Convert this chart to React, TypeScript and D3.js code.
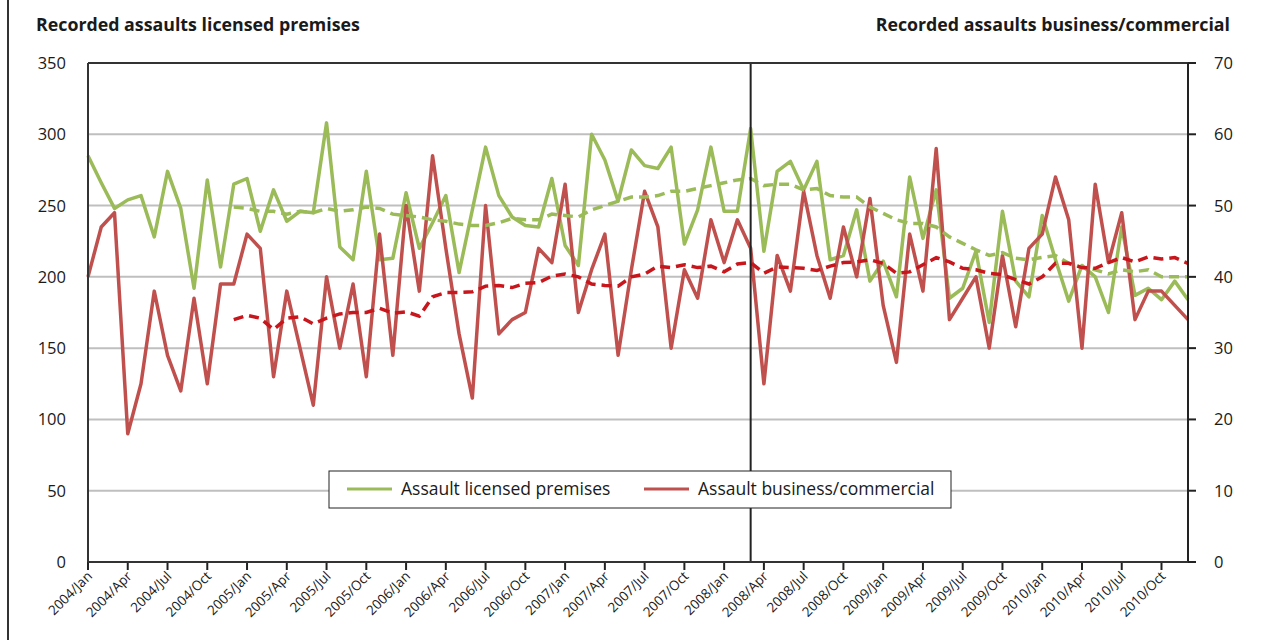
import React from "react";
import * as d3 from "d3";

const MONTHS = ["Jan","Feb","Mar","Apr","May","Jun","Jul","Aug","Sep","Oct","Nov","Dec"];
const YEARS = [2004, 2005, 2006, 2007, 2008, 2009, 2010];
const categories: string[] = YEARS.flatMap((y) => MONTHS.map((m) => `${y}/${m}`));

const licensed: number[] = [
  285, 266, 248, 254, 257, 228, 274, 248, 192, 268, 207, 265,
  269, 232, 261, 239, 246, 245, 308, 221, 212, 274, 212, 213,
  259, 220, 238, 257, 203, 247, 291, 257, 242, 236, 235, 269,
  222, 208, 300, 282, 253, 289, 278, 276, 291, 223, 247, 291,
  246, 246, 304, 218, 274, 281, 261, 281, 212, 215, 247, 197,
  211, 186, 270, 227, 261, 185, 192, 218, 168, 246, 197, 186,
  243, 212, 183, 208, 200, 175, 235, 187, 192, 184, 197, 184,
];

const business: number[] = [
  40, 47, 49, 18, 25, 38, 29, 24, 37, 25, 39, 39,
  46, 44, 26, 38, 30, 22, 40, 30, 39, 26, 46, 29,
  50, 38, 57, 44, 32, 23, 50, 32, 34, 35, 44, 42,
  53, 35, 41, 46, 29, 41, 52, 47, 30, 41, 37, 48,
  42, 48, 44, 25, 43, 38, 52, 43, 37, 47, 40, 51,
  36, 28, 46, 38, 58, 34, 37, 40, 30, 43, 33, 44,
  46, 54, 48, 30, 53, 42, 49, 34, 38, 38, 36, 34,
];

// trend lines start at 2004/Dec (index 11)
const trendStart = 11;
const licensedTrend: number[] = [
  249, 248, 246, 246, 244, 246, 245, 248, 246, 247, 249, 248, 244,
  243, 242, 240, 239, 237, 236, 236, 238, 241, 240, 240, 244,
  243, 242, 247, 250, 253, 256, 256, 257, 260, 260, 262, 264,
  266, 268, 269, 264, 265, 265, 261, 262, 257, 256, 256, 249,
  244.5, 240, 237.5, 237.5, 235, 228, 223.5, 219, 215, 217, 213, 212,
  213.6, 215, 209.5, 206.6, 205, 202, 205, 203.6, 205, 200, 200, 200,
];
const businessTrend: number[] = [
  34.0, 34.6, 34.2, 32.6, 34.2, 34.4, 33.4, 34.2, 34.8, 35.0, 35.0, 35.6, 34.9,
  35.1, 34.5, 37.2, 37.8, 37.8, 37.9, 38.7, 38.8, 38.5, 39.1, 39.2, 40.1,
  40.4, 40.0, 39.0, 38.8, 38.7, 40.0, 40.4, 41.5, 41.3, 41.7, 41.3, 41.5,
  40.7, 41.8, 42.0, 40.5, 41.4, 41.3, 41.2, 40.9, 41.5, 42.0, 42.1, 42.4,
  41.9, 40.5, 40.7, 41.7, 42.7, 42.1, 41.2, 41.0, 40.5, 40.3, 39.6, 39.0,
  40.0, 41.9, 41.9, 41.3, 41.2, 42.0, 42.7, 42.1, 42.8, 42.5, 42.7, 41.9,
];

const leftTicks = [0, 50, 100, 150, 200, 250, 300, 350];
const rightTicks = [0, 10, 20, 30, 40, 50, 60, 70];
const markerCategory = "2008/Mar";

const titleLeft = "Recorded assaults licensed premises";
const titleRight = "Recorded assaults business/commercial";
const legendItems = [
  { label: "Assault licensed premises", color: "#9BBB59" },
  { label: "Assault business/commercial", color: "#C0504D" },
];

const FONT = "'Open Sans', 'Noto Sans', sans-serif";

export default function App() {
  const W = 1264, H = 640;
  const left = 88, right = 1188, top = 63, bottom = 562;

  const x = d3.scalePoint<string>().domain(categories).range([left, right]);
  const yL = d3.scaleLinear().domain([0, 350]).range([bottom, top]);
  const yR = d3.scaleLinear().domain([0, 70]).range([bottom, top]);

  const lineL = d3.line<number>().x((_, i) => x(categories[i])!).y((d) => yL(d));
  const lineR = d3.line<number>().x((_, i) => x(categories[i])!).y((d) => yR(d));
  const lineLT = d3.line<number>().x((_, i) => x(categories[i + trendStart])!).y((d) => yL(d));
  const lineRT = d3.line<number>().x((_, i) => x(categories[i + trendStart])!).y((d) => yR(d));

  const xTicks = categories.filter((_, i) => i % 3 === 0);
  const mx = x(markerCategory)!;

  return (
    <svg width={W} height={H} style={{ position: "absolute", left: 0, top: 0, background: "#fff" }} fontFamily={FONT}>
      <rect x={0} y={0} width={W} height={H} fill="#fff" />
      <line x1={8} x2={8} y1={0} y2={H} stroke="#333" strokeWidth={2} />

      <text x={36} y={31} fontSize={17.8} fontWeight="bold" fill="#1a1a1a">{titleLeft}</text>
      <text x={1230} y={31} fontSize={17.8} fontWeight="bold" fill="#1a1a1a" textAnchor="end">{titleRight}</text>

      {/* gridlines */}
      {leftTicks.filter((t) => t > 0 && t < 350).map((t) => (
        <line key={t} x1={left} x2={right} y1={yL(t)} y2={yL(t)} stroke="#BFBFBF" strokeWidth={2} />
      ))}

      {/* left tick labels */}
      {leftTicks.map((t) => (
        <text key={t} x={66} y={yL(t) + 6} fontSize={16.5} textAnchor="end" fill="#1a1a1a">{t}</text>
      ))}
      {/* right ticks */}
      {rightTicks.map((t) => (
        <g key={t}>
          <line x1={right} x2={right + 8} y1={yR(t)} y2={yR(t)} stroke="#222" strokeWidth={2} />
          <text x={1214} y={yR(t) + 6} fontSize={16.5} fill="#1a1a1a">{t}</text>
        </g>
      ))}

      {/* x ticks */}
      {xTicks.map((c) => (
        <g key={c}>
          <line x1={x(c)} x2={x(c)} y1={bottom} y2={bottom + 8} stroke="#222" strokeWidth={2} />
          <text
            transform={`translate(${x(c)! + 5},${bottom + 15}) rotate(-45)`}
            fontSize={13.5}
            textAnchor="end"
            fill="#1a1a1a"
          >
            {c}
          </text>
        </g>
      ))}

      {/* series */}
      <path d={lineL(licensed)!} fill="none" stroke="#9BBB59" strokeWidth={3.5} strokeLinejoin="round" />
      <path d={lineR(business)!} fill="none" stroke="#C0504D" strokeWidth={3.5} strokeLinejoin="round" />
      <path d={lineLT(licensedTrend)!} fill="none" stroke="#9BBB59" strokeWidth={3.5} strokeDasharray="10,6" />
      <path d={lineRT(businessTrend)!} fill="none" stroke="#C8161D" strokeWidth={3.5} strokeDasharray="10,6" />

      {/* vertical marker */}
      <line x1={mx} x2={mx} y1={top} y2={bottom} stroke="#222" strokeWidth={2} />

      {/* plot frame */}
      <line x1={left} x2={right} y1={top} y2={top} stroke="#333" strokeWidth={2} />
      <line x1={left} x2={left} y1={top} y2={bottom} stroke="#333" strokeWidth={2} />
      <line x1={right} x2={right} y1={top} y2={bottom} stroke="#222" strokeWidth={2} />
      <line x1={left} x2={right} y1={bottom} y2={bottom} stroke="#333" strokeWidth={2} />

      {/* legend */}
      <rect x={329} y={471} width={622} height={37} fill="#fff" stroke="#222" strokeWidth={1} />
      <line x1={347} x2={392} y1={489} y2={489} stroke={legendItems[0].color} strokeWidth={3} />
      <text x={401} y={495} fontSize={17.5} fill="#1a1a1a">{legendItems[0].label}</text>
      <line x1={644} x2={689} y1={489} y2={489} stroke={legendItems[1].color} strokeWidth={3} />
      <text x={698} y={495} fontSize={17.5} fill="#1a1a1a">{legendItems[1].label}</text>
    </svg>
  );
}
